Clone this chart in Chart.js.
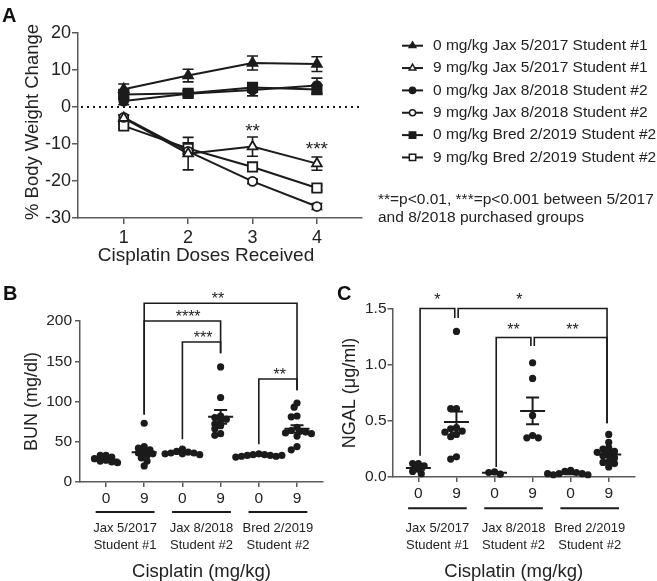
<!DOCTYPE html>
<html lang="en">
<head>
<meta charset="UTF-8">
<title>Cisplatin: body weight, BUN and NGAL</title>
<script src="https://cdn.jsdelivr.net/npm/chart.js@4"></script>
<style>
  body { margin: 0; background: #fff; }
  #fig { position: relative; width: 657px; height: 581px; overflow: hidden;
         font-family: "Liberation Sans", Arial, sans-serif; color: #222; }
  #fig canvas { position: absolute; }
  .panel { position: absolute; font-weight: bold; font-size: 20px; line-height: 1; color: #111; }
  .note { position: absolute; left: 378px; top: 190px; font-size: 15.5px; line-height: 18px; white-space: nowrap; }
</style>
</head>
<body>
<div id="fig">
  <canvas id="chartA" width="657" height="272" style="left:0;top:0"></canvas>
  <canvas id="chartB" width="330" height="309" style="left:0;top:272px"></canvas>
  <canvas id="chartC" width="327" height="309" style="left:330px;top:272px"></canvas>
  <div class="panel" style="left:2px;top:5px">A</div>
  <div class="panel" style="left:3px;top:283px">B</div>
  <div class="panel" style="left:337px;top:283px">C</div>
  <div class="note">**=p&lt;0.01, ***=p&lt;0.001 between 5/2017<br>and 8/2018 purchased groups</div>
</div>

<script>
// ---- Panel A: % body weight change per dose (mean, SEM)
const doses = [1, 2, 3, 4];
const seriesLabels = [
    '0 mg/kg Jax 5/2017 Student #1',
    '9 mg/kg Jax 5/2017 Student #1',
    '0 mg/kg Jax 8/2018 Student #2',
    '9 mg/kg Jax 8/2018 Student #2',
    '0 mg/kg Bred 2/2019 Student #2',
    '9 mg/kg Bred 2/2019 Student #2'
];
const jax17Ctl = [4.8, 8.5, 11.9, 11.6];
const jax17CtlErr = [1.4, 1.7, 1.9, 2.0];
const jax17Cis = [-3.0, -12.6, -10.7, -15.3];
const jax17CisErr = [0.8, 4.4, 2.6, 1.8];
const jax18Ctl = [1.6, 3.6, 4.6, 5.8];
const jax18CtlErr = [1.0, 0.8, 1.6, 2.0];
const jax18Cis = [-2.8, -12.0, -20.1, -26.9];
const jax18CisErr = [0.6, 0.8, 0.6, 0.8];
const bred19Ctl = [3.4, 3.7, 5.3, 4.7];
const bred19CtlErr = [1.2, 0.6, 0.9, 1.2];
const bred19Cis = [-5.1, -11.2, -16.2, -21.9];
const bred19CisErr = [0.7, 1.5, 0.8, 0.7];
const weightStars = [{ dose: 3, y: -6.7, text: '**' }, { dose: 4, y: -11.5, text: '***' }];

// ---- Panels B and C: individual animals, mean and SEM
const doseLabels = ['0', '9', '0', '9', '0', '9'];
const groupTop = ['Jax 5/2017', 'Jax 8/2018', 'Bred 2/2019'];
const groupBottom = ['Student #1', 'Student #2', 'Student #2'];

const bun = [
    [33, 33, 31, 29, 27, 26, 25, 24],
    [73, 44, 42, 40, 38, 36, 35, 33, 30, 26, 20],
    [41, 38, 37, 36, 36, 35, 35, 34],
    [143, 105, 82, 80, 78, 76, 72, 70, 66, 60, 58],
    [35, 34, 34, 33, 33, 32, 32, 31, 33],
    [98, 93, 82, 81, 68, 64, 63, 62, 61, 60, 57, 44, 40]
];
const bunMean = [28, 37, 37, 81, 33, 66];
const bunSem = [1.2, 3.6, 0.8, 8.5, 0.5, 4.6];
const bunBrackets = [
    { from: 1, to: 5, y: 222, ends: [84, 114], label: '**', at: 2.93 },
    { from: 1, to: 3, y: 200, ends: [84, 160], label: '****', at: 2.15 },
    { from: 2, to: 3, y: 174, ends: [53, 160], label: '***', at: 2.54 },
    { from: 4, to: 5, y: 128, ends: [47, 114], label: '**', at: 4.55 }
];

const ngal = [
    [0.12, 0.12, 0.10, 0.07, 0.05, 0.03],
    [1.30, 0.61, 0.61, 0.44, 0.43, 0.41, 0.40, 0.38, 0.36, 0.18, 0.16],
    [0.045, 0.04, 0.025],
    [1.02, 0.88, 0.55, 0.37, 0.35, 0.35],
    [0.06, 0.05, 0.04, 0.03, 0.03, 0.02, 0.02, 0.03],
    [0.38, 0.31, 0.26, 0.25, 0.23, 0.22, 0.20, 0.19, 0.17, 0.14, 0.13, 0.12, 0.09]
];
const ngalMean = [0.08, 0.49, 0.037, 0.59, 0.03, 0.20];
const ngalSem = [0.015, 0.095, 0.006, 0.12, 0.006, 0.023];
const ngalBrackets = [
    { from: 0, to: 1, y: 1.505, ends: [0.19, 1.42], label: '*', at: 0.5 },
    { from: 1, to: 5, y: 1.505, ends: [1.42, 0.48], label: '*', at: 2.65 },
    { from: 2, to: 3, y: 1.245, ends: [0.09, 1.17], label: '**', at: 2.5 },
    { from: 3, to: 5, y: 1.245, ends: [1.17, 0.48], label: '**', at: 4.05 }
];

// ---- styling
const FONT = '"Liberation Sans", Arial, sans-serif';
Chart.defaults.font.family = FONT;
Chart.defaults.color = '#222';
const ink = '#1b1b1b';
const axisGray = '#5a5a5a';

const weightValues = [jax17Ctl, jax17Cis, jax18Ctl, jax18Cis, bred19Ctl, bred19Cis];
const weightErrors = [jax17CtlErr, jax17CisErr, jax18CtlErr, jax18CisErr, bred19CtlErr, bred19CisErr];
const markerStyle = ['triangle', 'triangle', 'circle', 'circle', 'rect', 'rect'];
const markerRadius = { triangle: 5.6, circle: 4.5, rect: 6.6 };

function drawMarker(ctx, style, x, y, r, filled) {
    ctx.beginPath();
    if (style === 'triangle') {
        const w = r * Math.sin(2 * Math.PI / 3);
        ctx.moveTo(x, y - r);
        ctx.lineTo(x + w, y + r / 2);
        ctx.lineTo(x - w, y + r / 2);
        ctx.closePath();
    } else if (style === 'rect') {
        const s = r * Math.SQRT1_2;
        ctx.rect(x - s, y - s, 2 * s, 2 * s);
    } else {
        ctx.arc(x, y, r, 0, Math.PI * 2);
    }
    ctx.fillStyle = filled ? ink : '#fff';
    ctx.fill();
    ctx.stroke();
}

// everything that is not a plain mark: error bars, brackets, group labels, legend
function extras(cfg) {
    return {
        id: 'extras',
        beforeDatasetsDraw(chart) {
            const { ctx, chartArea: a, scales: { x, y } } = chart;
            ctx.save();
            ctx.strokeStyle = ink;
            if (cfg.zeroLine) {
                const py = Math.round(y.getPixelForValue(0));
                ctx.lineWidth = 2;
                ctx.setLineDash([2, 4]);
                ctx.beginPath();
                ctx.moveTo(a.left + 3, py);
                ctx.lineTo(a.right, py);
                ctx.stroke();
                ctx.setLineDash([]);
            }
            if (cfg.errors) {
                ctx.lineWidth = 1.6;
                cfg.errors.forEach((errs, i) => {
                    errs.forEach((e, j) => {
                        const px = x.getPixelForValue(cfg.xs[j]);
                        const t = y.getPixelForValue(cfg.values[i][j] + e);
                        const b = y.getPixelForValue(cfg.values[i][j] - e);
                        ctx.beginPath();
                        ctx.moveTo(px, t); ctx.lineTo(px, b);
                        ctx.moveTo(px - cfg.cap, t); ctx.lineTo(px + cfg.cap, t);
                        ctx.moveTo(px - cfg.cap, b); ctx.lineTo(px + cfg.cap, b);
                        ctx.stroke();
                    });
                });
            }
            ctx.restore();
        },
        afterDatasetsDraw(chart) {
            const { ctx, chartArea: a, scales: { x, y } } = chart;
            ctx.save();
            ctx.strokeStyle = ink;
            ctx.fillStyle = '#222';
            if (cfg.mean) {
                ctx.lineWidth = 2;
                cfg.mean.forEach((m, g) => {
                    const px = x.getPixelForValue(g), pm = y.getPixelForValue(m);
                    const t = y.getPixelForValue(m + cfg.sem[g]), b = y.getPixelForValue(m - cfg.sem[g]);
                    ctx.beginPath();
                    ctx.moveTo(px - cfg.meanHalf, pm); ctx.lineTo(px + cfg.meanHalf, pm);
                    ctx.moveTo(px, t); ctx.lineTo(px, b);
                    ctx.moveTo(px - cfg.cap, t); ctx.lineTo(px + cfg.cap, t);
                    ctx.moveTo(px - cfg.cap, b); ctx.lineTo(px + cfg.cap, b);
                    ctx.stroke();
                });
            }
            if (cfg.brackets) {
                ctx.lineWidth = 1.6;
                ctx.font = '16px ' + FONT;
                ctx.textAlign = 'center';
                ctx.textBaseline = 'alphabetic';
                cfg.brackets.forEach(br => {
                    const x1 = x.getPixelForValue(br.from) + cfg.legGap;
                    const x2 = x.getPixelForValue(br.to) - cfg.legGap;
                    const py = y.getPixelForValue(br.y);
                    ctx.beginPath();
                    ctx.moveTo(x1, y.getPixelForValue(br.ends[0]));
                    ctx.lineTo(x1, py);
                    ctx.lineTo(x2, py);
                    ctx.lineTo(x2, y.getPixelForValue(br.ends[1]));
                    ctx.stroke();
                    ctx.fillText(br.label, x.getPixelForValue(br.at), py + cfg.labelLift);
                });
            }
            if (cfg.stars) {
                ctx.font = '19px ' + FONT;
                ctx.textAlign = 'center';
                ctx.textBaseline = 'middle';
                cfg.stars.forEach(s => ctx.fillText(s.text, x.getPixelForValue(s.dose), y.getPixelForValue(s.y)));
            }
            ctx.restore();
        },
        afterDraw(chart) {
            const { ctx, chartArea: a, scales: { x } } = chart;
            ctx.save();
            ctx.strokeStyle = ink;
            ctx.fillStyle = '#222';
            if (cfg.titles) {
                ctx.textAlign = 'center';
                ctx.textBaseline = 'middle';
                cfg.titles.forEach(t => {
                    ctx.save();
                    ctx.font = t.size + 'px ' + FONT;
                    ctx.translate(t.x, t.y);
                    ctx.rotate(t.rot || 0);
                    ctx.fillText(t.text, 0, 0);
                    ctx.restore();
                });
            }
            if (cfg.groups) {
                ctx.lineWidth = 2;
                ctx.font = '13px ' + FONT;
                ctx.textAlign = 'center';
                ctx.textBaseline = 'middle';
                const ly = a.bottom + cfg.groups.lineOffset;
                groupTop.forEach((name, i) => {
                    const c = 2 * i + 0.5;
                    ctx.beginPath();
                    ctx.moveTo(x.getPixelForValue(c - 0.77), ly);
                    ctx.lineTo(x.getPixelForValue(c + 0.77), ly);
                    ctx.stroke();
                    const cx = x.getPixelForValue(c);
                    ctx.fillText(name, cx, cfg.groups.text1);
                    ctx.fillText(groupBottom[i], cx, cfg.groups.text2);
                });
            }
            if (cfg.legend) {
                const L = cfg.legend;
                ctx.font = L.size + 'px ' + FONT;
                ctx.textAlign = 'left';
                ctx.textBaseline = 'middle';
                chart.data.datasets.forEach((ds, i) => {
                    const cy = L.top + i * L.step;
                    ctx.lineWidth = 2;
                    ctx.beginPath();
                    ctx.moveTo(L.x0, cy); ctx.lineTo(L.x1, cy);
                    ctx.stroke();
                    ctx.lineWidth = 1.5;
                    drawMarker(ctx, markerStyle[i], (L.x0 + L.x1) / 2, cy,
                        markerRadius[markerStyle[i]] * L.scale, i % 2 === 0);
                    ctx.fillStyle = '#222';
                    ctx.fillText(ds.label, L.textX, cy);
                });
            }
            ctx.restore();
        }
    };
}

function axis(tickLength) {
    return {
        grid: { drawOnChartArea: false, drawTicks: true, tickLength: tickLength, color: axisGray, lineWidth: 1.5 },
        border: { color: axisGray, width: 1.5 }
    };
}

// compact beeswarm: dots with close values are pushed sideways, overlapping a little
function swarm(chart, groups, r) {
    const xs = chart.scales.x, ys = chart.scales.y;
    const unit = xs.getPixelForValue(1) - xs.getPixelForValue(0);
    const out = [];
    groups.forEach((vals, g) => {
        const placed = [];
        vals.forEach(v => {
            const py = ys.getPixelForValue(v);
            let dx = 0;
            for (let k = 0; k < 60; k++) {
                dx = k === 0 ? 0 : Math.ceil(k / 2) * r * 0.8 * (k % 2 ? -1 : 1);
                if (placed.every(p => Math.hypot(p.dx - dx, p.py - py) >= 1.25 * r)) break;
            }
            placed.push({ dx, py });
            out.push({ x: g + dx / unit, y: v });
        });
    });
    return out;
}

// ---- Panel A
new Chart(document.getElementById('chartA'), {
    type: 'line',
    data: {
        datasets: weightValues.map((vals, i) => ({
            label: seriesLabels[i],
            data: vals.map((v, j) => ({ x: doses[j], y: v })),
            borderColor: ink,
            borderWidth: 2,
            tension: 0,
            pointStyle: markerStyle[i],
            pointRadius: markerRadius[markerStyle[i]],
            pointBorderWidth: 1.8,
            pointBorderColor: ink,
            pointBackgroundColor: i % 2 === 0 ? ink : '#fff',
            clip: false
        }))
    },
    options: {
        responsive: false,
        animation: false,
        events: [],
        layout: { padding: { top: 33, right: 295, left: 0, bottom: 0 } },
        plugins: { legend: { display: false }, tooltip: { enabled: false } },
        scales: {
            x: {
                type: 'linear', min: 0.29, max: 4.7,
                afterBuildTicks: s => { s.ticks = doses.map(d => ({ value: d })); },
                afterFit: s => { s.height = 54; },
                ticks: { padding: 3, font: { size: 18 }, callback: v => String(v) },
                ...axis(6)
            },
            y: {
                min: -30, max: 20,
                ticks: { stepSize: 10, padding: 1, font: { size: 18 } },
                afterFit: s => { s.width = 78; },
                ...axis(6)
            }
        }
    },
    plugins: [extras({
        zeroLine: true,
        errors: weightErrors, values: weightValues, xs: doses, cap: 5.5,
        stars: weightStars,
        titles: [
            { text: 'Cisplatin Doses Received', x: 206, y: 256, size: 19 },
            { text: '% Body Weight Change', x: 32.5, y: 122, size: 18.5, rot: -Math.PI / 2 }
        ],
        legend: { top: 45.7, step: 22.35, x0: 402, x1: 423, textX: 433, size: 15.5, scale: 0.68 }
    })]
});

// ---- Panels B and C share the same layout
function dotPanel(id, groups, opts) {
    const chart = new Chart(document.getElementById(id), {
        type: 'scatter',
        data: {
            datasets: [{
                data: groups.flatMap((vals, g) => vals.map(v => ({ x: g, y: v }))),
                pointRadius: 3.6,
                pointBackgroundColor: ink,
                pointBorderWidth: 0,
                clip: false
            }]
        },
        options: {
            responsive: false,
            animation: false,
            events: [],
            layout: { padding: { top: opts.top, right: opts.right, left: 0, bottom: 0 } },
            plugins: { legend: { display: false }, tooltip: { enabled: false } },
            scales: {
                x: {
                    type: 'linear', min: opts.xMin, max: opts.xMax,
                    afterBuildTicks: s => { s.ticks = doseLabels.map((_, i) => ({ value: i })); },
                    afterFit: s => { s.height = opts.xHeight; },
                    ticks: { padding: 2, font: { size: 15.5 }, callback: v => doseLabels[v] },
                    ...axis(5),
                    title: { display: true, text: 'Cisplatin (mg/kg)', font: { size: 18.5, lineHeight: 1 }, padding: { top: 0, bottom: 0 } }
                },
                y: {
                    min: 0, max: opts.yMax,
                    ticks: { stepSize: opts.yStep, padding: opts.tickPad, font: { size: 15.5 }, callback: opts.yFormat },
                    afterFit: s => { s.width = opts.yWidth; },
                    ...axis(5),
                    title: { display: true, text: opts.yTitle, font: { size: 18 }, padding: { top: opts.titlePad, bottom: 0 } }
                }
            }
        },
        plugins: [extras({
            mean: opts.mean, sem: opts.sem, meanHalf: 12.5, cap: 6.5,
            brackets: opts.brackets, legGap: opts.legGap, labelLift: opts.labelLift,
            groups: { lineOffset: opts.lineOffset, text1: 256.3, text2: 273 }
        })]
    });
    chart.data.datasets[0].data = swarm(chart, groups, 3.6);
    chart.update('none');
    return chart;
}

dotPanel('chartB', bun, {
    top: 49, right: 7, xMin: -0.68, xMax: 5.68, xHeight: 99, yWidth: 80,
    yMax: 200, yStep: 50, tickPad: 3, titlePad: 21.7, yTitle: 'BUN (mg/dl)',
    yFormat: v => String(v),
    mean: bunMean, sem: bunSem, brackets: bunBrackets, legGap: 0, labelLift: 1,
    lineOffset: 30
});

dotPanel('chartC', ngal, {
    top: 37, right: 22, xMin: -0.68, xMax: 5.69, xHeight: 104, yWidth: 62.5,
    yMax: 1.5, yStep: 0.5, tickPad: 1, titlePad: 9.2, yTitle: 'NGAL (μg/ml)',
    yFormat: v => v.toFixed(1),
    mean: ngalMean, sem: ngalSem, brackets: ngalBrackets, legGap: 1.7, labelLift: -3,
    lineOffset: 31.3
});
</script>
</body>
</html>
